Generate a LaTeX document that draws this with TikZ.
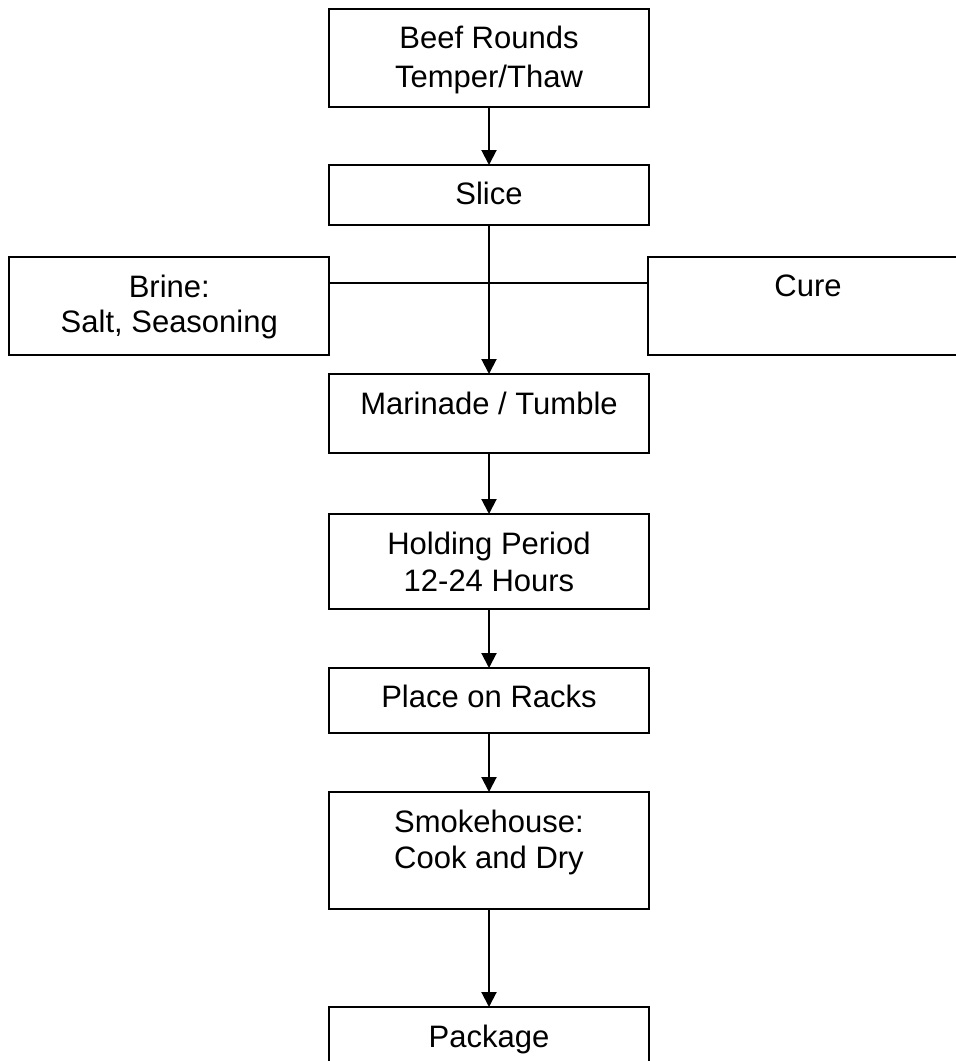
\documentclass[tikz,border=0pt]{standalone}
\usepackage{fontspec}
\setmainfont{Liberation Sans}
\usetikzlibrary{arrows.meta}
\begin{document}
\begin{tikzpicture}[x=1pt,y=-1pt,
  box/.style={draw=black,line width=2pt,minimum width=320pt,inner sep=0pt,outer sep=0pt},
  txt/.style={anchor=base,inner sep=0pt,font=\fontsize{31}{37}\selectfont},
  flow/.style={line width=2pt,-{Triangle[length=15pt,width=15pt]}},
  link/.style={line width=2pt}]
\useasboundingbox (0,0) rectangle (956,1061);
\clip (0,0) rectangle (956,1061);
% boxes
\node[box,minimum height=98pt]  (beef)  at (489,58)    {};
\node[box,minimum height=60pt]  (slice) at (489,195)   {};
\node[box,minimum height=98pt]  (brine) at (169.3,306) {};
\node[box,minimum height=98pt]  (cure)  at (808,306)   {};
\node[box,minimum height=79pt]  (mar)   at (489,413.5) {};
\node[box,minimum height=95pt]  (hold)  at (489,561.5) {};
\node[box,minimum height=65pt]  (place) at (489,700.5) {};
\node[box,minimum height=117pt] (smoke) at (489,850.5) {};
\node[box,minimum height=60pt]  (pack)  at (489,1037)  {};
% texts
\node[txt] (t1a) at (489,48)  {Beef Rounds};
\node[txt] (t1b) at (489,87)  {Temper/Thaw};
\node[txt] (t2)  at (489,204) {Slice};
\node[txt] (t3a) at (169.3,297) {Brine:};
\node[txt] (t3b) at (169.3,332) {Salt, Seasoning};
\node[txt] (t4)  at (808,296) {Cure};
\node[txt] (t5)  at (489,414) {Marinade / Tumble};
\node[txt] (t6a) at (489,554) {Holding Period};
\node[txt] (t6b) at (489,591) {12-24 Hours};
\node[txt] (t7)  at (489,707) {Place on Racks};
\node[txt] (t8a) at (489,832) {Smokehouse:};
\node[txt] (t8b) at (489,868) {Cook and Dry};
\node[txt] (t9)  at (489,1047) {Package};
% connectors
\draw[link] ([yshift=23pt]brine.east) -- ([yshift=23pt]cure.west);
\draw[flow] (beef.south) -- (slice.north);
\draw[flow] (slice.south) -- (mar.north);
\draw[flow] (mar.south) -- (hold.north);
\draw[flow] (hold.south) -- (place.north);
\draw[flow] (place.south) -- (smoke.north);
\draw[flow] (smoke.south) -- (pack.north);
\end{tikzpicture}
\end{document}
